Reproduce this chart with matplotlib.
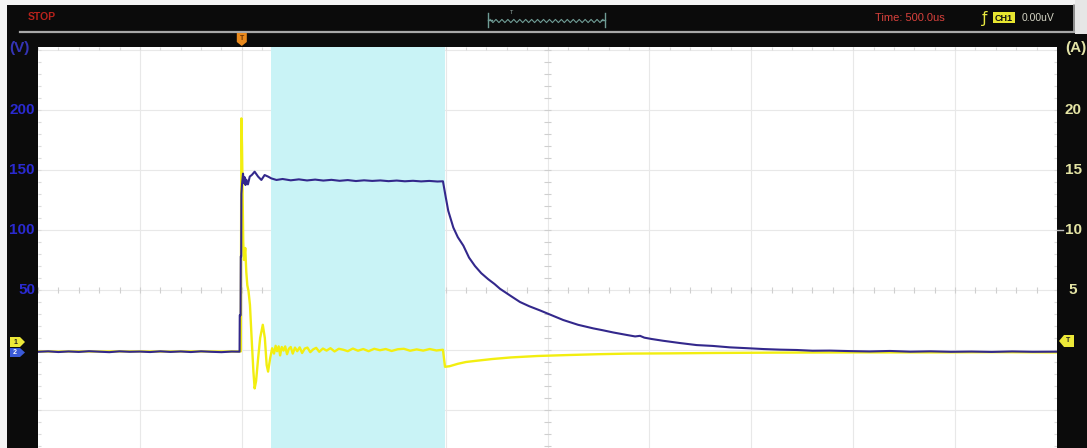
import numpy as np
import matplotlib
matplotlib.use('Agg')
import matplotlib.pyplot as plt
import matplotlib.transforms as mtransforms
from matplotlib.patches import Polygon, Rectangle

plt.rcParams['font.family'] = ['Liberation Sans', 'DejaVu Sans']

# ---- data (time in us, trigger at 0) ----
volt_t = [-1000, -950, -900, -850, -800, -750, -700, -650, -600, -550, -500, -450, -400, -350,
          -300, -250, -200, -150, -100, -50, -11,
          -10, -6, -5, -3, -2, 1, 6, 10, 14, 18, 22, 30, 39, 50, 63, 80, 96, 112, 129, 145,
          170, 200, 240, 280, 320, 360, 400, 440, 480, 520, 560, 600, 640, 680, 720, 760,
          800, 840, 880, 920, 960, 987,
          1000, 1013, 1038, 1060, 1087, 1115, 1144, 1175, 1209, 1240, 1267, 1320, 1365, 1410,
          1463, 1520, 1577, 1650, 1725, 1770, 1823, 1890, 1930, 1954, 1975, 2010, 2067, 2150,
          2232, 2310, 2395, 2480, 2559, 2640, 2723, 2800, 2886, 2980, 3080, 3180, 3280, 3380,
          3480, 3580, 3680, 3780, 3880, 4000]
volt_v = [-1.5, -1.1, -1.7, -1.2, -1.6, -1.0, -1.4, -1.8, -1.1, -1.5, -1.3, -1.7, -1.1, -1.6,
          -1.2, -1.7, -1.1, -1.5, -1.8, -1.3, -1.4,
          29, 29, 78, 78, 130, 138, 147, 139, 144, 137.5, 142, 138, 144.5, 146, 148.6, 144.5,
          141.7, 145.8, 144.5, 143,
          141.7, 142.5, 141.4, 142.2, 141.3, 142.0, 141.2, 141.8, 141.0, 141.6, 140.8, 141.4,
          140.9, 141.3, 140.7, 141.2, 140.6, 141.0, 140.5, 140.9, 140.4, 140.6,
          128, 116, 102, 94, 87, 77, 70, 64, 59, 55, 51, 45, 40, 36.5,
          33, 29, 25, 21, 18, 16.5, 14.6, 12.5, 11.3, 11.8, 10.3, 9.2, 7.7, 5.8,
          4.1, 3.4, 2.2, 1.5, 0.8, 0.3, 0.0, -0.6, -0.5, -0.9, -1.2, -0.8, -1.4, -1.1,
          -1.5, -1.3, -1.6, -1.2, -1.5, -1.4]

curr_t = [-1000, -900, -800, -700, -600, -500, -400, -300, -200, -100, -5,
          -2, 1, 4, 7, 11, 17, 22, 27, 33, 40, 44, 50, 57, 63, 70, 80, 90, 103, 113, 122,
          129, 139, 149, 158, 166, 173, 181, 188, 196, 205, 213, 222, 231, 240, 250, 261,
          272, 284, 296, 309, 322, 336, 350, 365, 380, 398, 416, 435, 455, 476, 498, 520,
          545, 570, 596, 622, 650, 678, 706, 735, 765, 795, 826, 858, 890, 922, 955, 987,
          997, 1020, 1060, 1100, 1150, 1230, 1320, 1450, 1600, 1750, 1900, 2100, 2300,
          2600, 3000, 3400, 3700, 4000]
curr_a = [-0.12, -0.13, -0.12, -0.13, -0.12, -0.12, -0.13, -0.12, -0.12, -0.13, -0.12,
          19.3, 17.0, 13.0, 9.0, 7.5, 8.5, 6.5, 5.4, 4.9, 3.75, 2.4, 0.4, -1.8, -3.2,
          -2.6, -0.7, 1.0, 2.1, 1.0, -1.25,
          -1.8, -0.7, 0.15, -0.3, 0.35, -0.1, 0.3, -0.45, 0.25, -0.05, 0.3, -0.35, 0.1,
          0.25, -0.3, 0.2, -0.1, 0.22, -0.25, 0.12, 0.2, -0.18, 0.05, 0.18, -0.15, 0.12,
          -0.05, 0.15, -0.12, 0.1, 0.02, -0.1, 0.12, -0.06, 0.08, -0.1, 0.1, -0.02, 0.08,
          -0.08, 0.06, 0.1, -0.06, 0.05, -0.05, 0.08, -0.04, 0.02,
          -1.4, -1.35, -1.15, -1.0, -0.9, -0.75, -0.62, -0.5, -0.42, -0.35, -0.3, -0.28,
          -0.25, -0.22, -0.2, -0.2, -0.18, -0.2]

highlight_us = [143, 997]
left_labels = [200, 150, 100, 50]
right_labels = [20, 15, 10, 5]

W, H = 1087, 448
fig = plt.figure(figsize=(W / 100, H / 100), dpi=100, facecolor='#0b0b0b')

# background frame
bg = fig.add_axes([0, 0, 1, 1], zorder=0)
bg.set_xlim(0, W)
bg.set_ylim(H, 0)
bg.axis('off')
bg.add_patch(Rectangle((0, 0), W, 5, color='#f4f4f4', lw=0))
bg.add_patch(Rectangle((0, 0), 7, H, color='#f4f4f4', lw=0))
bg.add_patch(Rectangle((1075, 0), 12, 34, color='#e6e6e6', lw=0))
bg.plot([20, 1074], [32, 32], color='#a8a8a8', lw=1.6)
bg.plot([1074, 1074], [5, 32], color='#a8a8a8', lw=1.2)

# plot area: current axis underneath, voltage axis on top
rect = [38 / W, 0, 1019 / W, 401 / H]
axI = fig.add_axes(rect, zorder=1)
axI.set_xlim(-1000, 4000)
axI.set_ylim(-98 / 12, 303 / 12)
axI.set_facecolor('white')
axV = axI.twinx()
axV.set_ylim(-98 / 1.2, 303 / 1.2)
for a in (axI, axV):
    a.set_xticks([])
    a.set_yticks([])
    for s in a.spines.values():
        s.set_visible(False)

# graticule (current units on axI: 5 A per division)
for k in range(1, 10):
    axI.axvline(-1000 + 500 * k, color='#e8e8e8', lw=0.8, zorder=0.5)
for a in [-5, 0, 5, 10, 15, 20, 25]:
    axI.axhline(a, color='#e8e8e8', lw=0.8, zorder=0.5)
tk = np.arange(-1000, 4001, 100)
axI.vlines(tk, 5 - 0.25, 5 + 0.25, color='#cfcfcf', lw=0.8, zorder=0.6)
axI.vlines(tk, 25.25 - 0.25, 25.25, color='#dadada', lw=0.8, zorder=0.6)
vk = np.arange(-8, 26, 1.0)
axI.hlines(vk, 1500 - 15, 1500 + 15, color='#cfcfcf', lw=0.8, zorder=0.6)
axI.hlines(vk, -1000, -985, color='#dadada', lw=0.8, zorder=0.6)
axI.hlines(vk, 3985, 4000, color='#dadada', lw=0.8, zorder=0.6)

axI.axvspan(highlight_us[0], highlight_us[1], color='#c9f3f6', lw=0, zorder=1)

axI.plot(curr_t, curr_a, color='#f2ee10', lw=1.7, zorder=3, solid_joinstyle='round')
axV.plot(volt_t, volt_v, color='#33288c', lw=1.5, zorder=4, solid_joinstyle='round')

# overlay for screen text
ov = fig.add_axes([0, 0, 1, 1], zorder=5)
ov.set_xlim(0, W)
ov.set_ylim(H, 0)
ov.axis('off')
ov.patch.set_alpha(0)

ov.text(28, 17, 'STOP', color='#b8221c', fontsize=7.5, fontweight='bold', va='center')
ov.text(875, 18, 'Time: 500.0us', color='#d8413c', fontsize=8, va='center')
ov.text(985, 18, 'ƒ', color='#e8e840', fontsize=11, va='center', ha='center',
        family=['DejaVu Sans'])
ov.add_patch(Rectangle((993, 12.5), 22, 11, color='#e8e630', lw=0))
ov.text(1004, 18.5, 'CH1', color='#111111', fontsize=6.5, fontweight='bold', va='center', ha='center')
ov.text(1022, 18, '0.00uV', color='#d4d4c4', fontsize=7.5, va='center')

# memory overview bar
zx = np.linspace(490, 603, 39)
zy = 21 + np.where(np.arange(39) % 2 == 0, -1.6, 1.6)
ov.plot(zx, zy, color='#6f9c95', lw=0.8)
ov.plot([488, 488], [13, 27], color='#6f9c95', lw=1.0)
ov.plot([605, 605], [13, 27], color='#6f9c95', lw=1.0)
ov.plot([488, 492], [20, 20], color='#6f9c95', lw=1.0)
ov.plot([601, 605], [20, 20], color='#6f9c95', lw=1.0)
ov.text(512, 12, 'T', color='#9ab0aa', fontsize=4, ha='center', va='center')

# trigger position marker
trig_px = ov.transData.inverted().transform(axI.transData.transform((0, 0)))[0]
ov.add_patch(Polygon([(trig_px - 5, 33), (trig_px + 5, 33), (trig_px + 5, 42),
                      (trig_px, 46), (trig_px - 5, 42)], color='#e8891d', lw=0))
ov.text(trig_px, 38.5, 'T', color='#6a3000', fontsize=5, ha='center', va='center', fontweight='bold')

# axis unit labels and scale values
ov.text(19, 48, '(V)', color='#3434b4', fontsize=11, fontweight='bold', ha='center', va='center')
ov.text(1076, 48, '(A)', color='#e2e2a6', fontsize=11, fontweight='bold', ha='center', va='center')
tl = mtransforms.blended_transform_factory(ov.transData, axV.transData)
tr = mtransforms.blended_transform_factory(ov.transData, axI.transData)
for v in left_labels:
    ov.text(35, v, str(v), transform=tl, color='#2a2ad0', fontsize=11, fontweight='bold',
            ha='right', va='center')
for a in right_labels:
    ov.text(1073, a, str(a), transform=tr, color='#e4e4a4', fontsize=11, fontweight='bold',
            ha='center', va='center')
ov.plot([1057, 1063], [230, 230], color='#bdbdbd', lw=1.0)

# channel / trigger level flags
ov.add_patch(Polygon([(10, 337), (20, 337), (25, 342), (20, 347), (10, 347)], color='#ece838', lw=0))
ov.text(15, 342, '1', color='#222222', fontsize=5, ha='center', va='center', fontweight='bold')
ov.add_patch(Polygon([(10, 348), (20, 348), (25, 352.5), (20, 357), (10, 357)], color='#3a5ad8', lw=0))
ov.text(15, 352.5, '2', color='#ffffff', fontsize=5, ha='center', va='center', fontweight='bold')
ov.add_patch(Polygon([(1059, 341), (1064, 335), (1074, 335), (1074, 347), (1064, 347)],
                     color='#ece838', lw=0))
ov.text(1068, 341, 'T', color='#222222', fontsize=5, ha='center', va='center', fontweight='bold')

fig.savefig('out.png', dpi=100, facecolor=fig.get_facecolor())
